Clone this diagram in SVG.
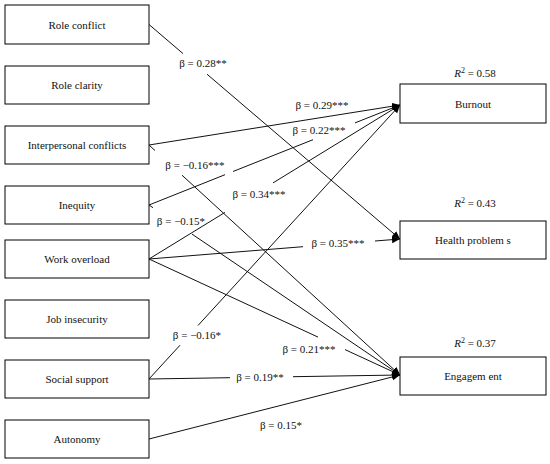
<svg xmlns="http://www.w3.org/2000/svg" width="550" height="464" viewBox="0 0 550 464">
<style>
.box{fill:#fff;stroke:#000;stroke-width:1}
.t{font-family:"Liberation Serif","DejaVu Serif","Times New Roman",serif;font-size:11px;fill:#111;text-anchor:middle}
.c{fill:none;stroke:#111;stroke-width:1;marker-end:url(#ah)}
</style>
<defs>
<marker id="ah" markerUnits="userSpaceOnUse" markerWidth="9" markerHeight="8" refX="8" refY="3.5" orient="auto">
<path d="M0,0 L8,3.5 L0,7 z" fill="#000"/>
</marker>
</defs>
<rect width="550" height="464" fill="#fff"/>
<g id="role-conflict"><rect class="box" x="5" y="5" width="144" height="39"/><text class="t" x="77" y="28.5">Role conflict</text></g>
<g id="role-clarity"><rect class="box" x="5" y="66" width="144" height="38"/><text class="t" x="77" y="89">Role clarity</text></g>
<g id="interpersonal-conflicts"><rect class="box" x="5" y="126" width="144" height="38"/><text class="t" x="77" y="149">Interpersonal conflicts</text></g>
<g id="inequity"><rect class="box" x="5" y="186" width="144" height="38"/><text class="t" x="77" y="209">Inequity</text></g>
<g id="work-overload"><rect class="box" x="5" y="240" width="144" height="38"/><text class="t" x="77" y="263">Work overload</text></g>
<g id="job-insecurity"><rect class="box" x="5" y="300" width="144" height="38"/><text class="t" x="77" y="323">Job insecurity</text></g>
<g id="social-support"><rect class="box" x="5" y="360" width="144" height="38"/><text class="t" x="77" y="383">Social support</text></g>
<g id="autonomy"><rect class="box" x="5" y="420" width="144" height="38"/><text class="t" x="77" y="443">Autonomy</text></g>
<g id="burnout"><rect class="box" x="400" y="84" width="146" height="39"/><text class="t" x="473" y="108">Burnout</text>
<text class="t" x="475" y="77"><tspan font-style="italic">R</tspan><tspan dy="-4" font-size="8">2</tspan><tspan dy="4"> = 0.58</tspan></text></g>
<g id="health-problems"><rect class="box" x="400" y="221" width="146" height="38"/><text class="t" x="473" y="244">Health problem s</text>
<text class="t" x="475" y="207"><tspan font-style="italic">R</tspan><tspan dy="-4" font-size="8">2</tspan><tspan dy="4"> = 0.43</tspan></text></g>
<g id="engagement"><rect class="box" x="400" y="357" width="146" height="38"/><text class="t" x="473" y="380">Engagem ent</text>
<text class="t" x="475" y="347"><tspan font-style="italic">R</tspan><tspan dy="-4" font-size="8">2</tspan><tspan dy="4"> = 0.37</tspan></text></g>
<g id="connectors">
<path class="c" d="M149,24.5 L183,53.6 M207,74.2 L400,239"/>
<path class="c" d="M149,145 L400,105"/>
<path class="c" d="M149,145 L155,150.5 M182,175.2 L400,375"/>
<path class="c" d="M149,205 L225,174.7 M233,171.5 L313,139.7 M355,122.9 L400,105"/>
<path class="c" d="M149,205 L153,207.7 M192,234.1 L400,375"/>
<path class="c" d="M149,259 L225,212.4 M273,182.9 L400,105"/>
<path class="c" d="M149,259 L303,246.7 M375,241 L400,239"/>
<path class="c" d="M149,259 L318,337.1 M345,349.6 L400,375"/>
<path class="c" d="M149,379 L180,345.2 M198,325.5 L400,105"/>
<path class="c" d="M149,379 L230,377.7 M293,376.7 L400,375"/>
<path class="c" d="M149,439 L400,375"/>
<text class="t" x="203" y="67">β = 0.28**</text>
<text class="t" x="322" y="109">β = 0.29***</text>
<text class="t" x="319" y="134">β = 0.22***</text>
<text class="t" x="195" y="169">β = −0.16***</text>
<text class="t" x="259" y="198">β = 0.34***</text>
<text class="t" x="181" y="225">β = −0.15*</text>
<text class="t" x="338" y="247">β = 0.35***</text>
<text class="t" x="309" y="353">β = 0.21***</text>
<text class="t" x="197" y="339">β = −0.16*</text>
<text class="t" x="260" y="381">β = 0.19**</text>
<text class="t" x="281" y="429">β = 0.15*</text>
</g>
</svg>
